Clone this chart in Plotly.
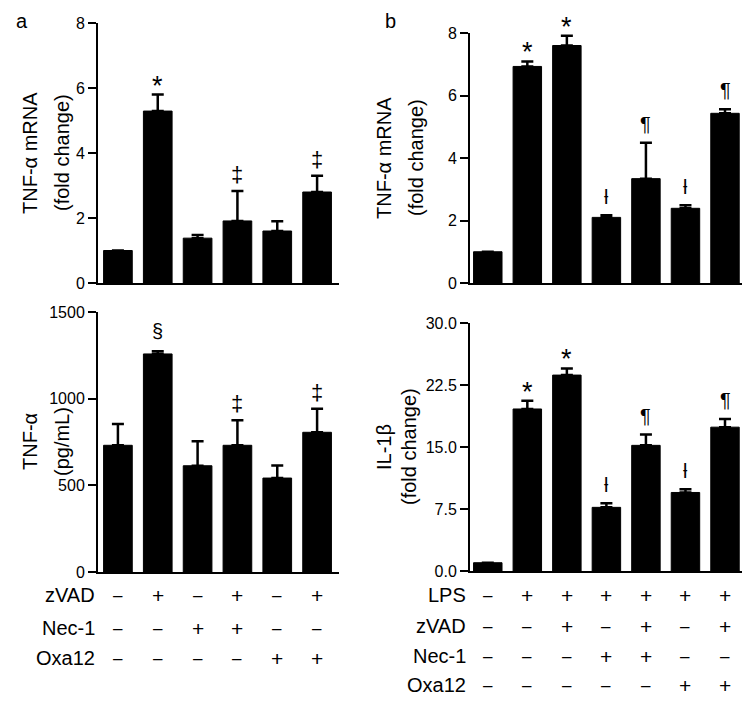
"""Necroptosis panels: TNF-a / IL-1b bar charts with treatment tables."""
import plotly.graph_objects as go

FONT = "Arial, Liberation Sans, sans-serif"

# panel a: zVAD / Nec-1 / Oxa12
a_mrna = [1.0, 5.29, 1.38, 1.91, 1.60, 2.80]
a_mrna_err = [0.0, 0.51, 0.10, 0.92, 0.30, 0.50]
a_mrna_sig = ["", "*", "", "‡", "", "‡"]

a_tnf = [731, 1258, 613, 731, 542, 806]
a_tnf_err = [123, 15, 141, 144, 73, 136]
a_tnf_sig = ["", "§", "", "‡", "", "‡"]

a_rows = ["zVAD", "Nec-1", "Oxa12"]
a_signs = [
    ["-", "+", "-", "+", "-", "+"],
    ["-", "-", "+", "+", "-", "-"],
    ["-", "-", "-", "-", "+", "+"],
]

# panel b: LPS / zVAD / Nec-1 / Oxa12
b_mrna = [1.0, 6.93, 7.60, 2.10, 3.34, 2.39, 5.43]
b_mrna_err = [0.0, 0.16, 0.31, 0.07, 1.15, 0.10, 0.13]
b_mrna_sig = ["", "*", "*", "ƚ", "¶", "ƚ", "¶"]

b_il1b = [1.0, 19.6, 23.7, 7.7, 15.2, 9.5, 17.4]
b_il1b_err = [0.0, 1.0, 0.8, 0.5, 1.3, 0.4, 1.0]
b_il1b_sig = ["", "*", "*", "ƚ", "¶", "ƚ", "¶"]

b_rows = ["LPS", "zVAD", "Nec-1", "Oxa12"]
b_signs = [
    ["-", "+", "+", "+", "+", "+", "+"],
    ["-", "-", "+", "-", "+", "-", "+"],
    ["-", "-", "-", "+", "+", "-", "-"],
    ["-", "-", "-", "-", "-", "+", "+"],
]

# page body adds an 8px margin, so the figure is shrunk to fit the window
OFF = 8
W, H = 750 - 2 * OFF, 707 - 2 * OFF


def px_x(p):
    return (p - OFF) / W


def px_y(p):
    return 1 - (p - OFF) / H


def bar_trace(values, errors, ax):
    return go.Bar(
        x=list(range(len(values))),
        y=values,
        xaxis="x" + ax,
        yaxis="y" + ax,
        marker=dict(color="black", line=dict(color="black", width=1)),
        error_y=dict(
            type="data",
            array=errors,
            arrayminus=[0] * len(errors),
            color="black",
            thickness=2.5,
            width=6,
        ),
        showlegend=False,
    )


fig = go.Figure()
fig.add_trace(bar_trace(a_mrna, a_mrna_err, ""))
fig.add_trace(bar_trace(a_tnf, a_tnf_err, "2"))
fig.add_trace(bar_trace(b_mrna, b_mrna_err, "3"))
fig.add_trace(bar_trace(b_il1b, b_il1b_err, "4"))

xcommon = dict(
    showline=True, linecolor="black", linewidth=2,
    showticklabels=False, ticks="", showgrid=False, zeroline=False,
)
ycommon = dict(
    showline=True, linecolor="black", linewidth=2,
    ticks="outside", ticklen=8, tickwidth=2, tickcolor="black",
    showgrid=False, zeroline=False,
    tickfont=dict(family=FONT, size=16, color="black"),
)

fig.update_layout(
    width=W,
    height=H,
    margin=dict(l=0, r=0, t=0, b=0, autoexpand=False),
    paper_bgcolor="white",
    plot_bgcolor="white",
    bargap=0.28,
    font=dict(family=FONT, color="black"),
    xaxis=dict(xcommon, domain=[px_x(98), px_x(339)], range=[-0.5, 5.55], anchor="y"),
    yaxis=dict(ycommon, domain=[px_y(283), px_y(23)], range=[0, 8], dtick=2, anchor="x"),
    xaxis2=dict(xcommon, domain=[px_x(98), px_x(339)], range=[-0.5, 5.55], anchor="y2"),
    yaxis2=dict(ycommon, domain=[px_y(572), px_y(312)], range=[0, 1500], dtick=500, anchor="x2"),
    xaxis3=dict(xcommon, domain=[px_x(470), px_x(742)], range=[-0.45, 6.43], anchor="y3"),
    yaxis3=dict(ycommon, domain=[px_y(283), px_y(33)], range=[0, 8], dtick=2, anchor="x3"),
    xaxis4=dict(xcommon, domain=[px_x(470), px_x(742)], range=[-0.45, 6.43], anchor="y4"),
    yaxis4=dict(ycommon, domain=[px_y(571), px_y(323)], range=[0, 30], dtick=7.5,
                tickformat=".1f", anchor="x4"),
)

ann = []

# significance marks above error bars
mark_style = {"*": (27, -8), "‡": (22, 2), "§": (20, 7), "¶": (20, 6), "ƚ": (20, 5)}
for ax, vals, errs, sig in [
    ("", a_mrna, a_mrna_err, a_mrna_sig),
    ("2", a_tnf, a_tnf_err, a_tnf_sig),
    ("3", b_mrna, b_mrna_err, b_mrna_sig),
    ("4", b_il1b, b_il1b_err, b_il1b_sig),
]:
    for i, s in enumerate(sig):
        if not s:
            continue
        size, shift = mark_style[s]
        ann.append(dict(
            x=i, y=vals[i] + errs[i], xref="x" + ax, yref="y" + ax,
            text=s, showarrow=False, yanchor="bottom", yshift=shift,
            font=dict(family=FONT, size=size, color="black"),
        ))

# treatment tables
for ax, rows, signs, ys, label_x in [
    ("", a_rows, a_signs, [595, 628, 658], 97),
    ("3", b_rows, b_signs, [595, 626, 656, 685], 468),
]:
    for name, row, yp in zip(rows, signs, ys):
        ann.append(dict(
            x=px_x(label_x), y=px_y(yp), xref="paper", yref="paper",
            text=name, showarrow=False, xanchor="right", yanchor="middle",
            font=dict(family=FONT, size=20, color="black"),
        ))
        for i, s in enumerate(row):
            ann.append(dict(
                x=i, y=px_y(yp), xref="x" + ax, yref="paper",
                text="–" if s == "-" else s, showarrow=False, yanchor="middle",
                font=dict(family=FONT, size=17 if s == "-" else 21, color="black"),
            ))

# y-axis titles (two rotated lines each)
for text, xp, yp in [
    ("TNF-α mRNA", 30, 153), ("(fold change)", 62, 153),
    ("TNF-α", 30, 442), ("(pg/mL)", 62, 442),
    ("TNF-α mRNA", 384, 158), ("(fold change)", 416, 158),
    ("IL-1β", 384, 447), ("(fold change)", 409, 447),
]:
    ann.append(dict(
        x=px_x(xp), y=px_y(yp), xref="paper", yref="paper",
        text=text, showarrow=False, textangle=-90,
        xanchor="center", yanchor="middle",
        font=dict(family=FONT, size=20, color="black"),
    ))

# panel letters (kept inside the top edge of the figure)
for text, xp in [("a", 22), ("b", 390)]:
    ann.append(dict(
        x=px_x(xp), y=1, xref="paper", yref="paper",
        text=text, showarrow=False, xanchor="center", yanchor="top",
        font=dict(family=FONT, size=20, color="black"),
    ))

fig.update_layout(annotations=ann)

fig.write_html("out.html")
